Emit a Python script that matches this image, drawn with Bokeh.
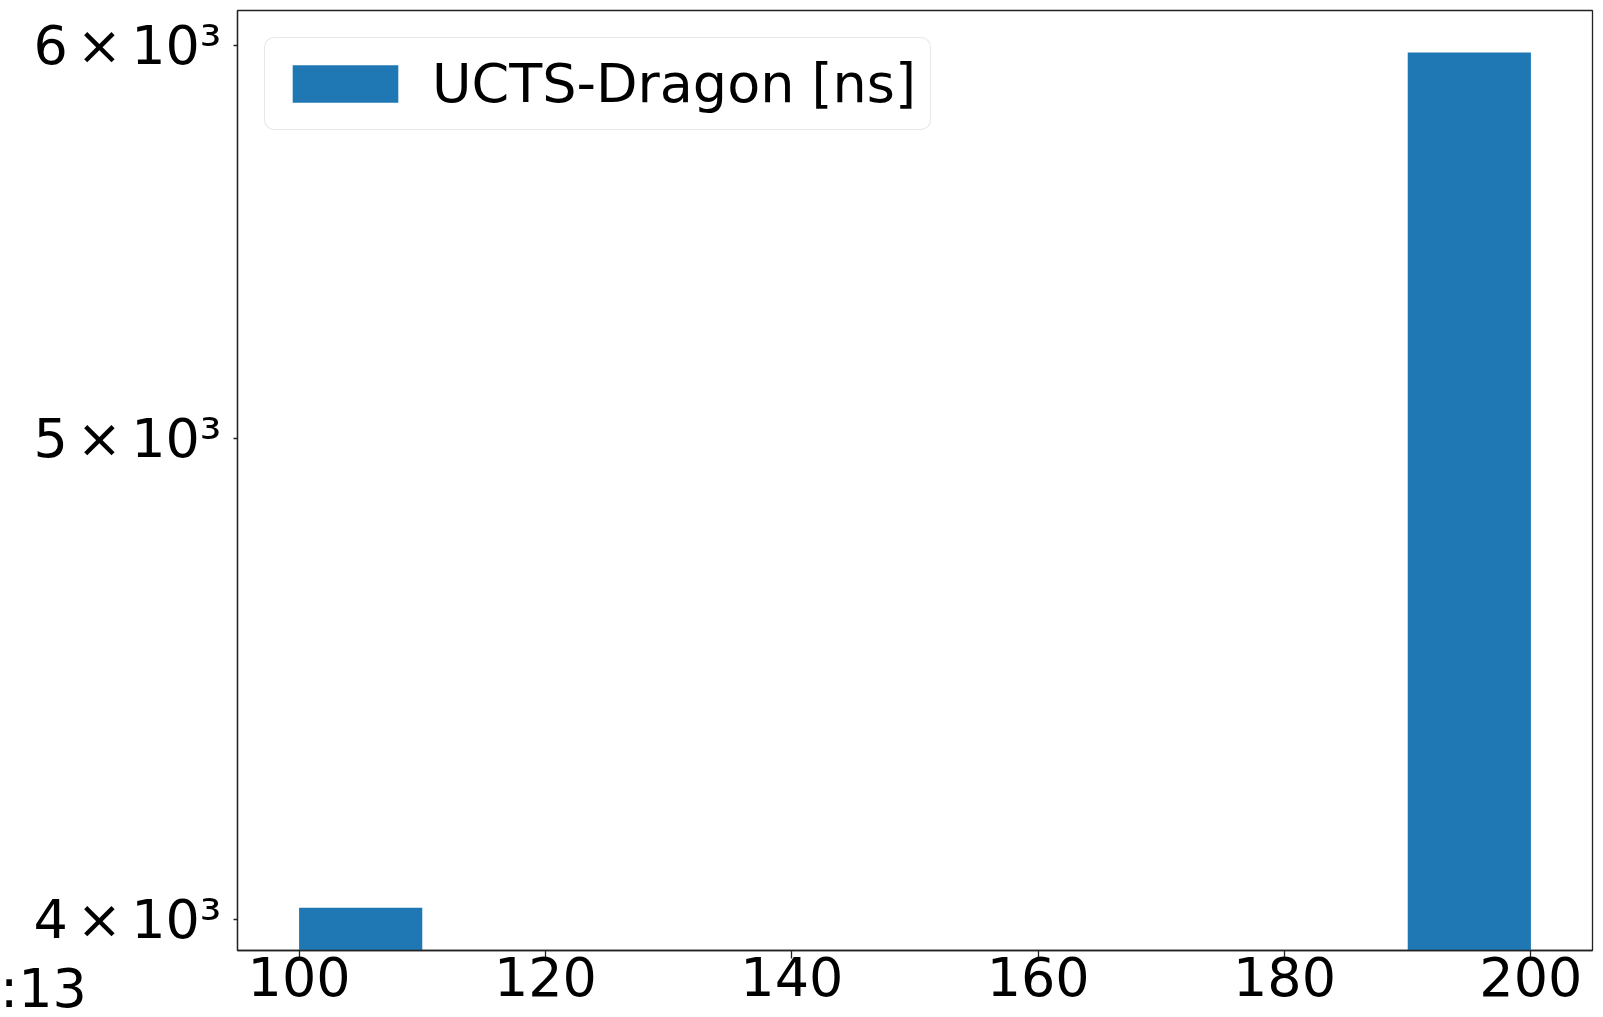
from bokeh.plotting import figure
from bokeh.models import Range1d, FixedTicker, CustomJSTickFormatter, ColumnDataSource, Legend, LegendItem, Div
from bokeh.layouts import column
from bokeh.embed import file_html
from bokeh.resources import INLINE

# ---- data ----
bin_edges = [100, 110, 120, 130, 140, 150, 160, 170, 180, 190, 200]
counts = [4022, 0, 0, 0, 0, 0, 0, 0, 0, 5981]
series_name = "UCTS-Dragon [ns]"
x_ticks = [100, 120, 140, 160, 180, 200]
y_ticks = [4000, 5000, 6000]
corner_text = ":13"

FONT = "DejaVu Sans"
FS = "54px"

left = [bin_edges[i] for i in range(len(counts)) if counts[i] > 0]
right = [bin_edges[i + 1] for i in range(len(counts)) if counts[i] > 0]
top = [c for c in counts if c > 0]
src = ColumnDataSource(dict(left=left, right=right, top=top, bottom=[1] * len(top)))

p = figure(width=1603, height=1017, y_axis_type="log",
           x_range=Range1d(95, 205), y_range=Range1d(3943, 6099),
           output_backend="svg", toolbar_location=None,
           min_border_left=237, min_border_right=11, min_border_top=10, min_border_bottom=67)

r = p.quad(left="left", right="right", top="top", bottom="bottom", source=src,
           fill_color="#1f77b4", line_color=None)

p.xgrid.visible = False
p.ygrid.visible = False
p.outline_line_color = "#222222"
p.outline_line_width = 1.3
p.outline_line_alpha = 1.0

for ax in (p.xaxis[0], p.yaxis[0]):
    ax.major_label_text_font = FONT
    ax.major_label_text_font_size = FS
    ax.major_label_text_color = "black"
    ax.axis_line_color = "#222222"
    ax.axis_line_width = 1.3
    ax.major_tick_line_color = "#222222"
    ax.major_tick_line_width = 1.3
    ax.minor_tick_line_color = None
    ax.major_tick_in = 0

p.xaxis.ticker = FixedTicker(ticks=x_ticks)
p.xaxis.major_tick_out = 8
p.xaxis.major_label_standoff = -2

p.yaxis.ticker = FixedTicker(ticks=y_ticks)
p.yaxis.major_tick_out = 4
p.yaxis.major_label_standoff = 12
p.yaxis.formatter = CustomJSTickFormatter(code="""
const sup = {"0":"⁰","1":"¹","2":"²","3":"³","4":"⁴","5":"⁵","6":"⁶","7":"⁷","8":"⁸","9":"⁹"};
const e = Math.floor(Math.log10(tick) + 1e-9);
const m = Math.round(tick / Math.pow(10, e));
const es = String(e).split("").map(c => sup[c]).join("");
return m + "\\u2006×\\u200610" + es;
""")

legend = Legend(items=[LegendItem(label=series_name, renderers=[r])],
                location="top_left", margin=27, padding=14,
                glyph_width=132, glyph_height=47, label_standoff=21,
                label_text_font=FONT, label_text_font_size=FS, label_text_color="black",
                border_line_color="#d0d0d0", border_line_width=1.3,
                background_fill_color="white", background_fill_alpha=0.8)
try:
    legend.border_radius = 10
except Exception:
    pass
p.add_layout(legend)

# fragment of a neighbouring label at the left edge of the picture
corner = Div(text=corner_text, styles={
    "position": "absolute", "left": "0px", "top": "962px",
    "font-family": "DejaVu Sans", "font-size": "54px", "line-height": "1",
    "color": "black", "margin": "0", "padding": "0", "white-space": "nowrap",
    "z-index": "10",
})

layout = column(p, corner)
open("out.html", "w").write(file_html(layout, INLINE))
